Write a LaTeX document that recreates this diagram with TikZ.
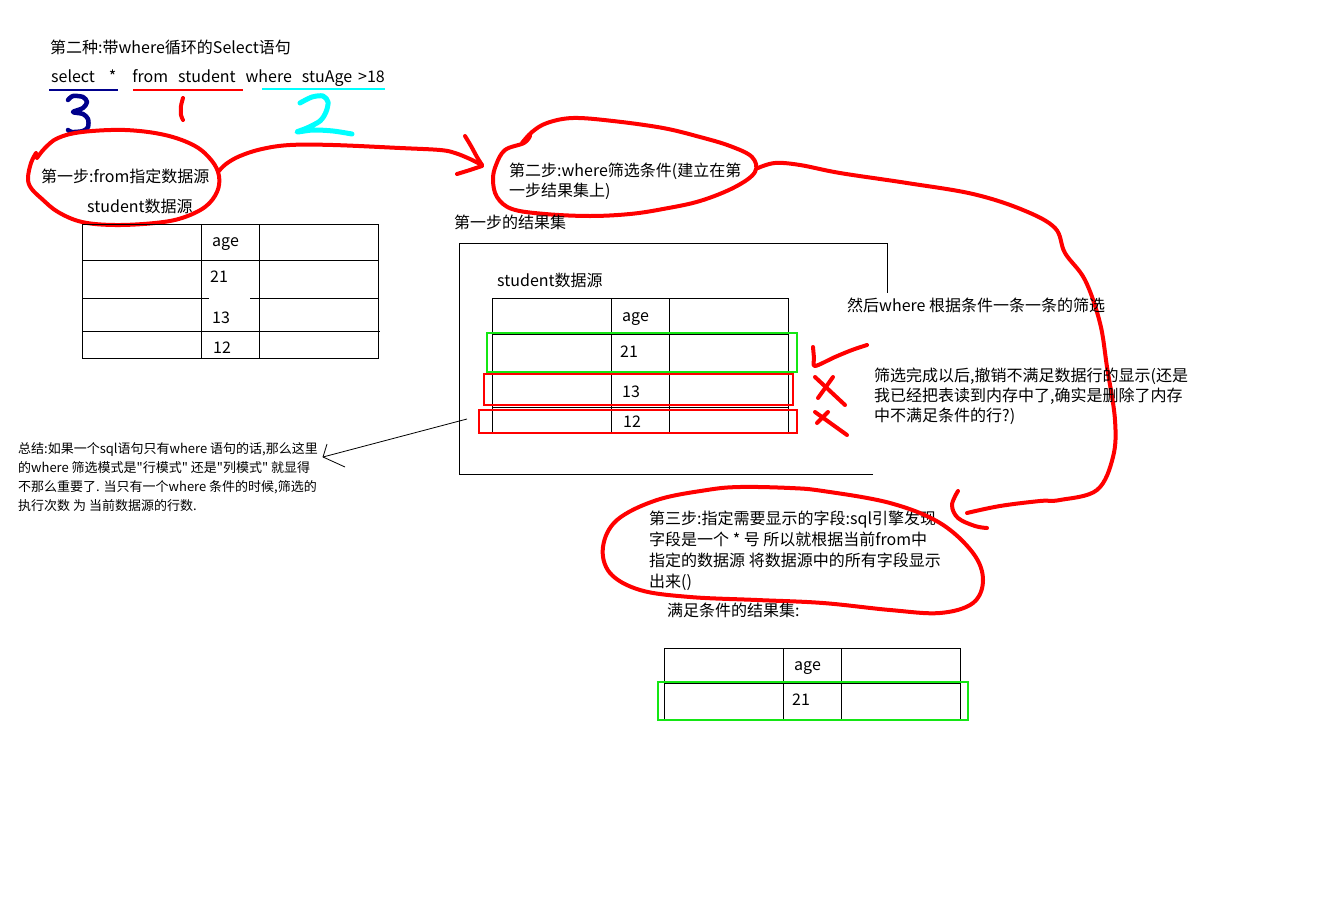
\documentclass[tikz,border=0pt]{standalone}
\usepackage{fontspec}
\setmainfont{Noto Sans CJK SC}[Ligatures=TeXOff]
\usetikzlibrary{arrows.meta}
\definecolor{pen}{RGB}{255,0,0}
\definecolor{navyink}{RGB}{0,0,140}
\definecolor{cyanink}{RGB}{0,255,255}
\definecolor{greenbox}{RGB}{20,230,20}
\begin{document}
\begin{tikzpicture}[x=1pt,y=-1pt,
 txt/.style={inner sep=0pt, anchor=base west, font=\fontsize{16}{19}\selectfont},
 smalltxt/.style={inner sep=0pt, anchor=base west, font=\fontsize{13}{16}\selectfont},
 freehand/.style={line width=4pt, line cap=round, line join=round},
 redpen/.style={freehand, draw=pen},
 gridline/.style={line width=1pt, draw=black},
 redbox/.style={draw=pen, line width=2pt},
 greenframe/.style={draw=greenbox, line width=2pt},
 thin/.style={line width=0.8pt, draw=black}
 ]
\useasboundingbox[fill=white] (0,0) rectangle (1318,900);

% ---------- header ----------
\node[txt] (title) at (50,53) {第二种:带where循环的Select语句};
\node[txt] (sql) at (51,82) {select\hspace{14pt}*\hspace{16pt}from\hspace{10pt}student\hspace{10pt}where\hspace{10pt}stuAge\hspace{6pt}>18};
\draw[draw=navyink, line width=2pt] (49,90) -- (118,90);
\draw[draw=pen, line width=1.5pt] (133,90) -- (243,90);
\draw[draw=cyanink, line width=1.2pt] (262,89) -- (385,89);
% hand-written numbers
\draw[freehand, draw=navyink, line width=4.5pt] plot[smooth, tension=0.5] coordinates {(68,100) (73,96) (83,97) (87,102) (83,108) (73,112) (83,114) (88,119) (88,127) (83,131) (72,132) (68,130)};
\draw[freehand, draw=pen] plot[smooth] coordinates {(183,98) (181,106) (181,115) (183,120)};
\draw[freehand, draw=cyanink, line width=5pt] plot[smooth, tension=0.5] coordinates {(300,103) (312,97) (323,96) (328,102) (326,112) (320,121) (307,128) (297,132) (313,130) (333,131) (352,134)};

% ---------- step 1 ----------
\node[txt] (step1) at (41,182) {第一步:from指定数据源};
\node[txt] (src1) at (87,212) {student数据源};
\draw[redpen] plot[smooth, tension=0.6] coordinates {(36,153) (31,163) (28,178) (31,188) (42,199) (58,212) (82,222) (115,225) (155,223) (182,218) (205,207) (217,192) (219,176) (212,161) (195,146) (165,135) (125,130) (82,132) (58,138) (45,148) (37,158)};
% arrow step1 -> step2
\draw[redpen] plot[smooth, tension=0.6] coordinates {(218,172) (226,164) (240,156) (262,149) (290,145) (333,145) (400,148) (440,150) (455,153) (470,159) (482,165)};
\draw[redpen] plot[smooth, tension=0.5] coordinates {(465,136) (471,146) (477,157) (482,165)};
\draw[redpen] plot[smooth, tension=0.5] coordinates {(482,166) (470,170) (457,174)};

% left table
\draw[gridline] (82,224) rectangle (378,358);
\draw[gridline] (201,224) -- (201,358);
\draw[gridline] (259,224) -- (259,358);
\draw[gridline] (82,260) -- (378,260);
\draw[gridline] (82,298) -- (209,298);
\draw[gridline] (250,298) -- (378,298);
\draw[gridline] (82,331) -- (380,331);
\node[txt] (lage) at (212,246) {age};
\node[txt] (l21) at (210,282) {21};
\node[txt] (l13) at (212,323) {13};
\node[txt] (l12) at (213,353) {12};

% ---------- step 2 ----------
\node[txt] (step2a) at (509,176) {第二步:where筛选条件(建立在第};
\node[txt] (step2b) at (509,196) {一步结果集上)};
\draw[redpen] plot[smooth, tension=0.6] coordinates {(530,136) (524,143) (505,150) (496,165) (493,180) (497,197) (512,209) (545,214) (590,216) (630,214) (663,209) (700,201) (735,187) (755,172) (752,157) (730,146) (700,137) (663,128) (613,121) (573,118) (547,123) (532,132) (522,143)};
% big curve step2 -> step3
\draw[redpen] plot[smooth, tension=0.6] coordinates {(758,168) (775,163) (800,165) (840,173) (907,183) (973,194) (1023,210) (1055,228) (1065,253) (1085,280) (1100,323) (1107,367) (1115,420) (1113,457) (1097,490) (1060,500) (1040,501) (1000,506) (967,513)};
\draw[redpen] plot[smooth, tension=0.6] coordinates {(958,491) (952,505) (958,518) (975,526) (987,528)};

\node[txt] (res1) at (454,228) {第一步的结果集};
% big frame
\draw[gridline] (873,474) -- (459,474) -- (459,243) -- (887,243) -- (887,293);
\node[txt] (src2) at (497,286) {student数据源};
% middle table
\draw[gridline] (492,298) rectangle (788,432);
\draw[gridline] (611,298) -- (611,432);
\draw[gridline] (669,298) -- (669,433);
\draw[gridline] (492,334) -- (788,334);
\draw[gridline] (492,372) -- (788,372);
\draw[gridline] (492,407) -- (788,407);
\node[txt] (mage) at (622,321) {age};
\node[txt] (m21) at (620,357) {21};
\node[txt] (m13) at (622,397) {13};
\node[txt] (m12) at (623,427) {12};
\draw[greenframe] (487,333) rectangle (797,372);
\draw[redbox] (484,374) rectangle (793,405);
\draw[redbox] (479,410) rectangle (797,433);
% check and crosses
\draw[redpen] plot[smooth, tension=0.5] coordinates {(813,347) (814,358) (815,366) (835,357) (852,350) (867,345)};
\draw[redpen] (815,377) -- (845,405);
\draw[redpen] (833,377) -- (818,398);
\draw[redpen] (815,412) -- (847,435);
\draw[redpen] (828,412) -- (817,423);

\node[txt] (filter) at (847,311) {然后where 根据条件一条一条的筛选};
\node[txt] (note1) at (874,381) {筛选完成以后,撤销不满足数据行的显示(还是};
\node[txt] (note2) at (874,401) {我已经把表读到内存中了,确实是删除了内存};
\node[txt] (note3) at (874,421) {中不满足条件的行?)};

% ---------- summary ----------
\node[smalltxt] (sum1) at (18,453) {总结:如果一个sql语句只有where 语句的话,那么这里};
\node[smalltxt] (sum2) at (18,472) {的where 筛选模式是"行模式" 还是"列模式" 就显得};
\node[smalltxt] (sum3) at (18,491) {不那么重要了. 当只有一个where 条件的时候,筛选的};
\node[smalltxt] (sum4) at (18,510) {执行次数 为 当前数据源的行数.};
\coordinate (frameptr) at (467,419);
\coordinate (sumtip) at (323,457);
\draw[thin] (frameptr) -- (sumtip);
\draw[thin] (327,444) -- (sumtip) -- (345,467);

% ---------- step 3 ----------
\node[txt] (step3a) at (649,524) {第三步:指定需要显示的字段:sql引擎发现};
\node[txt] (step3b) at (649,545) {字段是一个 * 号 所以就根据当前from中};
\node[txt] (step3c) at (649,566) {指定的数据源 将数据源中的所有字段显示};
\node[txt] (step3d) at (649,587) {出来()};
\draw[redpen] plot[smooth cycle, tension=0.6] coordinates {(740,487) (790,488) (823,491) (890,503) (940,523) (973,553) (983,580) (973,603) (940,613) (890,610) (823,603) (757,600) (690,597) (640,590) (610,573) (603,547) (617,520) (657,500) (707,490)};
\node[txt] (res2) at (667,616) {满足条件的结果集:};
% bottom table
\draw[gridline] (664,648) rectangle (960,720);
\draw[gridline] (783,648) -- (783,720);
\draw[gridline] (841,648) -- (841,720);
\draw[gridline] (664,683) -- (960,683);
\node[txt] (bage) at (794,670) {age};
\node[txt] (b21) at (792,705) {21};
\draw[greenframe] (658,682) rectangle (968,720);
\end{tikzpicture}
\end{document}
